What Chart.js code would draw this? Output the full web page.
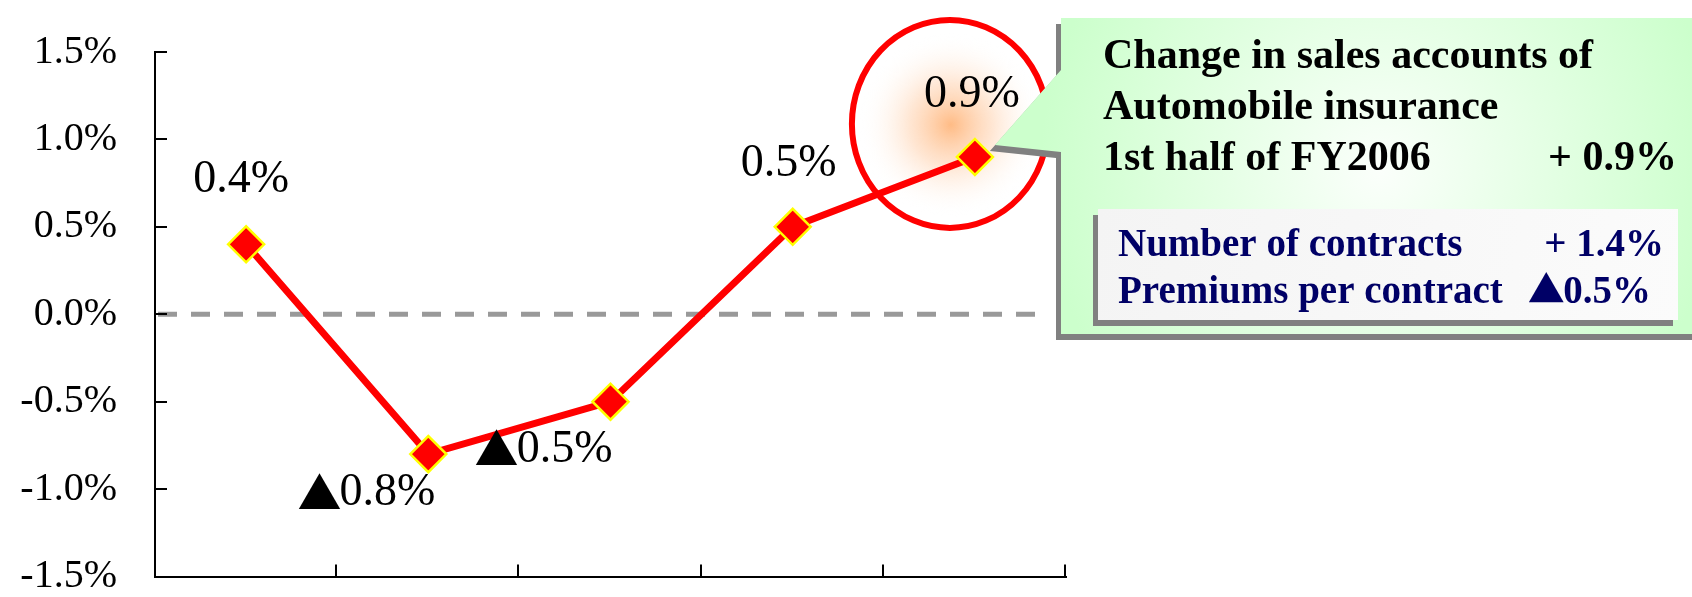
<!DOCTYPE html>
<html>
<head>
<meta charset="utf-8">
<script src="https://cdn.jsdelivr.net/npm/chart.js@4.4.0/dist/chart.umd.min.js"></script>
<style>
  html, body { margin: 0; padding: 0; background: #fff; }
  #wrap { width: 1692px; height: 597px; position: relative; }
</style>
</head>
<body>
<div id="wrap"><canvas id="chart"></canvas></div>
<script>
// data
const periods = ['1', '2', '3', '4', '5'];
const changeRates = [0.4, -0.8, -0.5, 0.5, 0.9];
const yTickValues = [-1.5, -1.0, -0.5, 0.0, 0.5, 1.0, 1.5];

const calloutTitle = ['Change in sales accounts of', 'Automobile insurance', '1st half of FY2006'];
const calloutTotal = '+ 0.9%';
const breakdownLabels = ['Number of contracts', 'Premiums per contract'];
const breakdownValues = [1.4, -0.5];

const SERIF = '"Liberation Serif", "Times New Roman", serif';
const TRI_FONT = '"Noto Sans CJK JP", "DejaVu Sans", sans-serif';

// draws a rate; negatives get a black triangle instead of a minus sign
function drawRate(ctx, v, x, y, size, weight, align, plus) {
  const num = Math.abs(v).toFixed(1) + '%';
  const numFont = weight + ' ' + size + 'px ' + SERIF;
  const triFont = weight + ' ' + Math.round(size * 0.95) + 'px ' + TRI_FONT;
  let prefix = '', prefixFont = numFont;
  if (v < 0) { prefix = '\u25B2'; prefixFont = triFont; }
  else if (plus) { prefix = '+ '; }
  ctx.font = prefixFont;
  const pw = prefix ? ctx.measureText(prefix).width - (v < 0 ? size * 0.08 : 0) : 0;
  ctx.font = numFont;
  const nw = ctx.measureText(num).width;
  const total = pw + nw;
  let left = x;
  if (align === 'center') left = x - total / 2;
  else if (align === 'right') left = x - total;
  ctx.textAlign = 'left';
  if (prefix) {
    ctx.font = prefixFont;
    ctx.fillText(prefix, left - (v < 0 ? size * 0.04 : 0), y);
  }
  ctx.font = numFont;
  ctx.fillText(num, left + pw, y);
}

// where each value label sits relative to its point
const labelOffsets = [[-5, -64], [-61, 39], [-66, 48], [-4, -63], [-3, -62]];

const decor = {
  id: 'decor',
  beforeDatasetsDraw(chart) {
    const { ctx, chartArea, scales: { x, y } } = chart;
    ctx.save();

    // dashed zero line
    const y0 = y.getPixelForValue(0);
    ctx.strokeStyle = '#999999';
    ctx.lineWidth = 5;
    ctx.setLineDash([19, 14]);
    ctx.beginPath();
    ctx.moveTo(chartArea.left + 3, y0);
    ctx.lineTo(1045, y0);
    ctx.stroke();
    ctx.setLineDash([]);

    // tick marks pointing inward
    ctx.strokeStyle = '#000';
    ctx.lineWidth = 2;
    yTickValues.forEach(v => {
      const py = Math.round(y.getPixelForValue(v));
      ctx.beginPath();
      ctx.moveTo(chartArea.left, py);
      ctx.lineTo(chartArea.left + 12, py);
      ctx.stroke();
    });
    const step = (x.right - x.left) / periods.length;
    for (let i = 1; i <= periods.length; i++) {
      const px = Math.round(x.left + i * step) - 1;
      ctx.beginPath();
      ctx.moveTo(px, chartArea.bottom);
      ctx.lineTo(px, chartArea.bottom - 12);
      ctx.stroke();
    }

    // glow behind the last point
    const p = chart.getDatasetMeta(0).data[changeRates.length - 1];
    const gx = p.x - 24, gy = p.y - 32;
    const g = ctx.createRadialGradient(gx, gy, 0, gx, gy, 92);
    g.addColorStop(0, 'rgba(255,180,120,0.9)');
    g.addColorStop(0.45, 'rgba(255,210,175,0.55)');
    g.addColorStop(1, 'rgba(255,255,255,0)');
    ctx.fillStyle = g;
    ctx.beginPath();
    ctx.ellipse(gx, gy, 96, 102, 0, 0, Math.PI * 2);
    ctx.fill();
    ctx.restore();
  },
  afterDatasetsDraw(chart) {
    const { ctx } = chart;
    const pts = chart.getDatasetMeta(0).data;
    const last = pts[pts.length - 1];
    ctx.save();

    // red ring around the latest value
    ctx.strokeStyle = '#ff0000';
    ctx.lineWidth = 6;
    ctx.beginPath();
    ctx.ellipse(last.x - 25, last.y - 33, 98, 104, 0, 0, Math.PI * 2);
    ctx.stroke();

    // callout box with pointer
    const tipX = last.x + 20, tipY = last.y - 12;
    const shape = (dx, dy) => {
      ctx.beginPath();
      ctx.moveTo(1061 + dx, 18 + dy);
      ctx.lineTo(1700 + dx, 18 + dy);
      ctx.lineTo(1700 + dx, 334 + dy);
      ctx.lineTo(1061 + dx, 334 + dy);
      ctx.lineTo(1061 + dx, 152 + dy);
      ctx.lineTo(tipX + dx, tipY + dy);
      ctx.lineTo(1061 + dx, 70 + dy);
      ctx.closePath();
    };
    ctx.fillStyle = '#808080';
    shape(-5, 6);
    ctx.fill();
    const gg = ctx.createRadialGradient(1380, 170, 0, 1380, 170, 340);
    gg.addColorStop(0, '#fbfffb');
    gg.addColorStop(1, '#ccffcc');
    ctx.fillStyle = gg;
    shape(0, 0);
    ctx.fill();

    ctx.fillStyle = '#000';
    ctx.font = 'bold 42px ' + SERIF;
    ctx.textBaseline = 'alphabetic';
    ctx.textAlign = 'left';
    const baselines = [68, 119, 170];
    calloutTitle.forEach((t, i) => ctx.fillText(t, 1103, baselines[i]));
    ctx.textAlign = 'right';
    ctx.fillText(calloutTotal, 1677, 170);

    // inner breakdown box
    ctx.fillStyle = '#808080';
    ctx.fillRect(1093, 215, 580, 111);
    const ig = ctx.createLinearGradient(1098, 209, 1678, 320);
    ig.addColorStop(0, '#f4f4f4');
    ig.addColorStop(1, '#fbfbfb');
    ctx.fillStyle = ig;
    ctx.fillRect(1098, 209, 580, 111);

    ctx.fillStyle = '#000066';
    const ib = [256, 303];
    const ir = [1664, 1651];
    breakdownLabels.forEach((t, i) => {
      ctx.font = 'bold 39px ' + SERIF;
      ctx.textAlign = 'left';
      ctx.fillText(t, 1118, ib[i]);
      drawRate(ctx, breakdownValues[i], ir[i], ib[i], 39, 'bold', 'right', true);
    });

    // value labels
    ctx.fillStyle = '#000';
    ctx.textBaseline = 'middle';
    pts.forEach((pt, i) => {
      const [ox, oy] = labelOffsets[i];
      drawRate(ctx, changeRates[i], pt.x + ox, pt.y + oy, 46, 'normal', 'center', false);
    });
    ctx.restore();
  }
};

new Chart(document.getElementById('chart'), {
  type: 'line',
  data: {
    labels: periods,
    datasets: [{
      data: changeRates,
      borderColor: '#ff0000',
      borderWidth: 7,
      tension: 0,
      pointStyle: 'rectRot',
      pointRadius: 18,
      pointBackgroundColor: '#ff0000',
      pointBorderColor: '#ffff00',
      pointBorderWidth: 2.5
    }]
  },
  options: {
    responsive: true,
    maintainAspectRatio: false,
    animation: false,
    devicePixelRatio: 1,
    layout: { padding: { top: 52, right: 626, bottom: 0, left: 0 } },
    plugins: { legend: { display: false }, tooltip: { enabled: false } },
    scales: {
      x: {
        type: 'category',
        offset: true,
        grid: { drawOnChartArea: false, drawTicks: false },
        border: { display: true, color: '#000', width: 2 },
        ticks: { display: false },
        afterFit: s => { s.height = 18; s.paddingLeft = 0; s.paddingRight = 0; }
      },
      y: {
        min: -1.5,
        max: 1.5,
        grid: { drawOnChartArea: false, drawTicks: false },
        border: { display: true, color: '#000', width: 2 },
        afterBuildTicks: s => { s.ticks = yTickValues.map(v => ({ value: v })); },
        ticks: {
          padding: 38,
          color: '#000',
          font: { family: SERIF, size: 40, lineHeight: 0.8 },
          callback: v => v.toFixed(1) + '%'
        },
        afterFit: s => { s.width = 155; s.paddingTop = 0; s.paddingBottom = 0; }
      }
    }
  },
  plugins: [decor]
});
</script>
</body>
</html>
